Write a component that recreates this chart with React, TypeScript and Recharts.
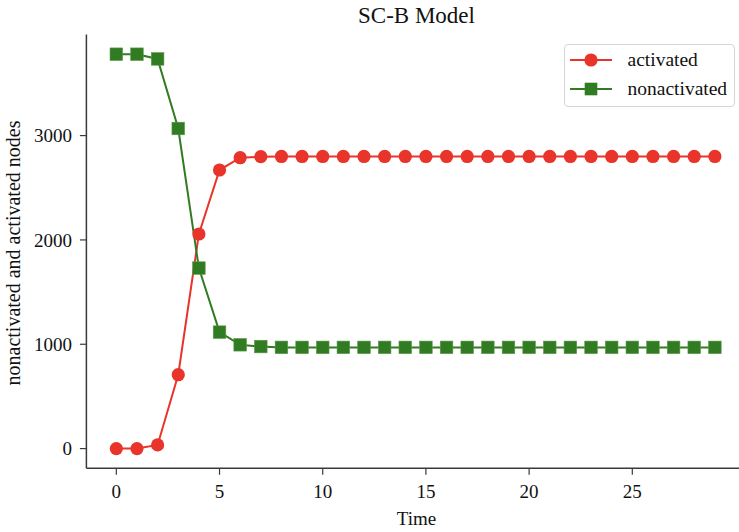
import { LineChart, Line, XAxis, YAxis, Legend } from 'recharts';

const times = [0, 1, 2, 3, 4, 5, 6, 7, 8, 9, 10, 11, 12, 13, 14, 15, 16, 17, 18, 19, 20, 21, 22, 23, 24, 25, 26, 27, 28, 29];
const activated = [0, 0, 35, 708, 2057, 2670, 2788, 2798, 2800, 2800, 2800, 2800, 2800, 2800, 2800, 2800, 2800, 2800, 2800, 2800, 2800, 2800, 2800, 2800, 2800, 2800, 2800, 2800, 2800, 2800];
const nonactivated = [3780, 3780, 3735, 3068, 1730, 1116, 995, 978, 970, 970, 970, 970, 970, 970, 970, 970, 970, 970, 970, 970, 970, 970, 970, 970, 970, 970, 970, 970, 970, 970];
const xTicks = [0, 5, 10, 15, 20, 25];
const yTicks = [0, 1000, 2000, 3000];

const RED = '#e8342a';
const GREEN = '#317b22';
const FONT = "'Liberation Serif', 'Times New Roman', serif";
const SPINE = '#3a3a3a';

const data = times.map((t, i) => ({ t, activated: activated[i], nonactivated: nonactivated[i] }));

const SquareDot = (props: any) => {
  const { cx, cy, index } = props;
  if (cx == null || cy == null) return null;
  return <rect key={`sq-${index}`} x={cx - 6.3} y={cy - 6.3} width={12.6} height={12.6} fill={GREEN} stroke="#5c9a4c" strokeWidth={0.6} />;
};

const LegendBox = () => (
  <div style={{
    width: 171,
    height: 63,
    boxSizing: 'border-box',
    border: '1px solid #d6d6d6',
    borderRadius: 4,
    background: 'rgba(255,255,255,0.8)',
    fontFamily: FONT,
    fontSize: 19.5,
    color: '#111',
  }}>
    {[
      { name: 'activated', color: RED, shape: 'circle' },
      { name: 'nonactivated', color: GREEN, shape: 'square' },
    ].map((item, i) => (
      <div key={item.name} style={{ position: 'absolute', left: 0, top: 15.7 + i * 29 - 12, height: 24, display: 'flex', alignItems: 'center' }}>
        <svg width={62} height={24} style={{ display: 'block' }}>
          <line x1={6} y1={12} x2={48} y2={12} stroke={item.color} strokeWidth={2} />
          {item.shape === 'circle'
            ? <circle cx={27} cy={12} r={6.6} fill={item.color} />
            : <rect x={20.7} y={5.7} width={12.6} height={12.6} fill={item.color} />}
        </svg>
        <span style={{ marginLeft: 1.5, lineHeight: '24px' }}>{item.name}</span>
      </div>
    ))}
  </div>
);

export default function App() {
  return (
    <div style={{ position: 'absolute', left: 0, top: 0, width: 739, height: 532, overflow: 'hidden', background: '#fff' }}>
      <LineChart width={746} height={532} data={data} margin={{ top: 34.5, right: 1.2, bottom: 0, left: 0 }}>
        <XAxis
          dataKey="t"
          type="number"
          domain={[-1.45, 30.45]}
          ticks={xTicks}
          height={63.7}
          tickSize={6.5}
          tickMargin={10}
          axisLine={{ stroke: SPINE, strokeWidth: 1.5 }}
          tickLine={{ stroke: SPINE, strokeWidth: 1.2 }}
          tick={{ fill: '#111', fontSize: 19, fontFamily: FONT }}
        />
        <XAxis
          xAxisId="top"
          orientation="top"
          dataKey="t"
          type="number"
          domain={[-1.45, 30.45]}
          height={0}
          tick={false}
          tickLine={false}
          axisLine={{ stroke: SPINE, strokeWidth: 1.5 }}
        />
        <YAxis
          type="number"
          domain={[-189, 3969]}
          ticks={yTicks}
          width={86.4}
          tickSize={6.5}
          tickMargin={8}
          axisLine={{ stroke: SPINE, strokeWidth: 1.5 }}
          tickLine={{ stroke: SPINE, strokeWidth: 1.2 }}
          tick={{ fill: '#111', fontSize: 19, fontFamily: FONT }}
        />
        <Legend
          layout="horizontal"
          verticalAlign="middle"
          align="center"
          content={<LegendBox />}
          wrapperStyle={{ position: 'absolute', left: 564, top: 44.3, width: 171, height: 63 }}
        />
        <Line
          type="linear"
          dataKey="activated"
          name="activated"
          stroke={RED}
          strokeWidth={2}
          dot={{ r: 6.6, fill: RED, stroke: RED, strokeWidth: 0 }}
          activeDot={false}
          isAnimationActive={false}
        />
        <Line
          type="linear"
          dataKey="nonactivated"
          name="nonactivated"
          stroke={GREEN}
          strokeWidth={2}
          dot={(p: any) => <SquareDot key={`sq-${p.index}`} {...p} />}
          activeDot={false}
          isAnimationActive={false}
        />
      </LineChart>
      <svg width={739} height={532} style={{ position: 'absolute', left: 0, top: 0, pointerEvents: 'none' }}>
        <text x={416.5} y={23} textAnchor="middle" fontFamily={FONT} fontSize={23} fill="#111">SC-B Model</text>
        <text x={416.5} y={524.5} textAnchor="middle" fontFamily={FONT} fontSize={19} fill="#111">Time</text>
        <text x={20} y={253} textAnchor="middle" fontFamily={FONT} fontSize={20} fill="#111" transform="rotate(-90 20 253)">
          nonactivated and activated nodes
        </text>
      </svg>
    </div>
  );
}
